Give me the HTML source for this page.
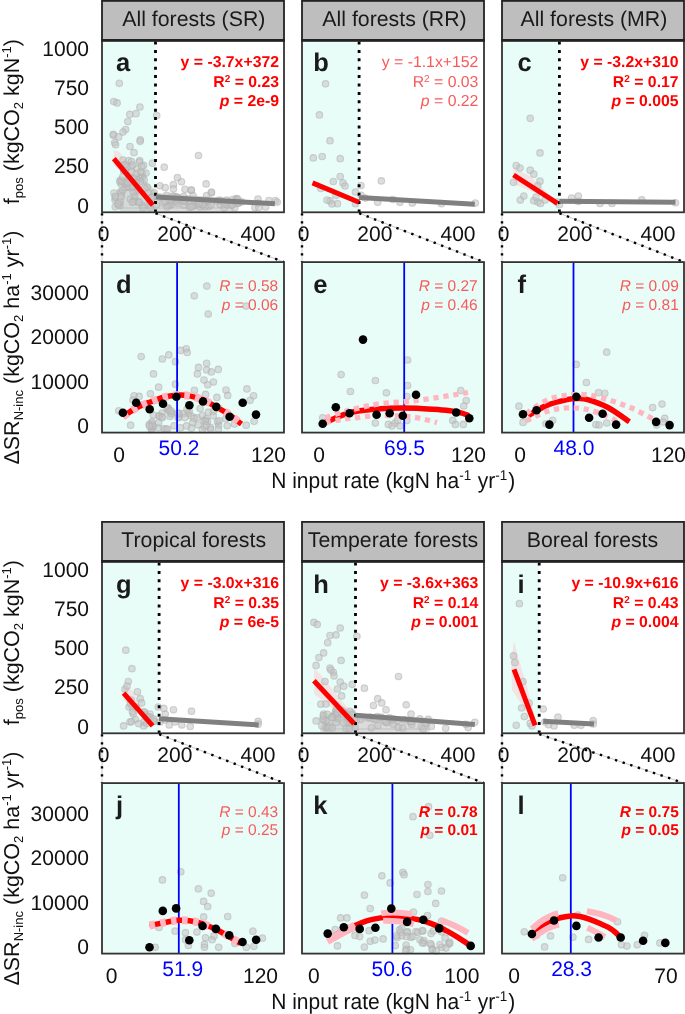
<!DOCTYPE html>
<html><head><meta charset="utf-8"><style>
html,body{margin:0;padding:0;background:#fff;overflow:hidden;}
svg{display:block;will-change:transform;}
</style></head><body>
<svg width="685" height="1014" viewBox="0 0 685 1014" font-family='"Liberation Sans", sans-serif' text-rendering="geometricPrecision">
<rect width="685" height="1014" fill="#fff"/>
<rect x="102" y="0.9" width="182" height="39.4" fill="#bebebe" stroke="#222" stroke-width="1.8"/>
<text x="193.8" y="25.7" font-size="21.3" text-anchor="middle" fill="#1a1a1a" stroke="#1a1a1a" stroke-width="0">All forests (SR)</text>
<rect x="302" y="0.9" width="182" height="39.4" fill="#bebebe" stroke="#222" stroke-width="1.8"/>
<text x="394.5" y="25.7" font-size="21.3" text-anchor="middle" fill="#1a1a1a" stroke="#1a1a1a" stroke-width="0">All forests (RR)</text>
<rect x="502" y="0.9" width="182" height="39.4" fill="#bebebe" stroke="#222" stroke-width="1.8"/>
<text x="593.9" y="25.7" font-size="21.3" text-anchor="middle" fill="#1a1a1a" stroke="#1a1a1a" stroke-width="0">All forests (MR)</text>
<rect x="102" y="40.3" width="53.5" height="172.0" fill="#e9fdf8"/>
<polygon points="113.8,150.0 120.0,152.0 152.8,204.0 113.8,165.0" fill="#ffb6c1" fill-opacity="0.35"/>
<polygon points="121.0,209.0 123.0,190.0 130.0,178.0 140.0,178.0 150.0,188.0 156.0,195.0 230.0,200.0 232.0,209.0" fill="#c4c4c4" fill-opacity="0.6" stroke="#c4c4c4" stroke-opacity="0.6" stroke-width="4" stroke-linejoin="round"/><g fill="#c2c2c2" fill-opacity="0.55" stroke="#b0b0b0" stroke-opacity="0.55" stroke-width="1.1"><circle cx="119.3" cy="83.3" r="3.3"/><circle cx="113.8" cy="101.5" r="3.3"/><circle cx="117.1" cy="102.9" r="3.3"/><circle cx="139.9" cy="107.0" r="3.3"/><circle cx="129.8" cy="114.4" r="3.3"/><circle cx="136.0" cy="113.7" r="3.3"/><circle cx="127.8" cy="121.6" r="3.3"/><circle cx="125.6" cy="129.5" r="3.3"/><circle cx="123.0" cy="132.1" r="3.3"/><circle cx="113.4" cy="135.2" r="3.3"/><circle cx="118.6" cy="136.9" r="3.3"/><circle cx="140.3" cy="139.8" r="3.3"/><circle cx="114.7" cy="142.6" r="3.3"/><circle cx="115.6" cy="144.8" r="3.3"/><circle cx="130.0" cy="146.5" r="3.3"/><circle cx="156.7" cy="115.5" r="3.3"/><circle cx="140.1" cy="141.3" r="3.3"/><circle cx="134.0" cy="152.7" r="3.3"/><circle cx="123.0" cy="160.1" r="3.3"/><circle cx="128.7" cy="160.6" r="3.3"/><circle cx="139.7" cy="160.6" r="3.3"/><circle cx="143.6" cy="165.4" r="3.3"/><circle cx="152.4" cy="163.2" r="3.3"/><circle cx="137.0" cy="168.9" r="3.3"/><circle cx="142.3" cy="173.3" r="3.3"/><circle cx="113.3" cy="134.3" r="3.3"/><circle cx="164.2" cy="167.2" r="3.3"/><circle cx="198.5" cy="155.5" r="3.3"/><circle cx="177.4" cy="177.7" r="3.3"/><circle cx="181.5" cy="181.8" r="3.3"/><circle cx="173.4" cy="184.7" r="3.3"/><circle cx="173.4" cy="188.8" r="3.3"/><circle cx="185.0" cy="189.3" r="3.3"/><circle cx="191.1" cy="190.2" r="3.3"/><circle cx="206.1" cy="183.9" r="3.3"/><circle cx="211.3" cy="192.8" r="3.3"/><circle cx="159.9" cy="185.8" r="3.3"/><circle cx="165.2" cy="187.6" r="3.3"/><circle cx="191.4" cy="190.1" r="3.3"/><circle cx="211.5" cy="192.2" r="3.3"/><circle cx="206.6" cy="195.7" r="3.3"/><circle cx="206.6" cy="201.9" r="3.3"/><circle cx="220.5" cy="204.7" r="3.3"/><circle cx="226.0" cy="203.3" r="3.3"/><circle cx="241.3" cy="201.9" r="3.3"/><circle cx="258.0" cy="199.1" r="3.3"/><circle cx="258.0" cy="203.3" r="3.3"/><circle cx="269.0" cy="200.5" r="3.3"/><circle cx="275.3" cy="200.5" r="3.3"/><circle cx="194.2" cy="205.4" r="3.3"/><circle cx="115.0" cy="200.0" r="3.3"/><circle cx="118.0" cy="205.0" r="3.3"/><circle cx="114.0" cy="193.0" r="3.3"/><circle cx="131.0" cy="166.4" r="3.3"/><circle cx="138.8" cy="176.9" r="3.3"/><circle cx="121.1" cy="183.9" r="3.3"/><circle cx="120.4" cy="180.2" r="3.3"/><circle cx="134.7" cy="199.5" r="3.3"/><circle cx="123.6" cy="169.9" r="3.3"/><circle cx="142.2" cy="205.4" r="3.3"/><circle cx="140.4" cy="178.4" r="3.3"/><circle cx="124.3" cy="164.8" r="3.3"/><circle cx="130.4" cy="199.0" r="3.3"/><circle cx="125.7" cy="187.5" r="3.3"/><circle cx="142.6" cy="177.2" r="3.3"/><circle cx="139.3" cy="162.1" r="3.3"/><circle cx="144.2" cy="180.0" r="3.3"/><circle cx="130.6" cy="187.7" r="3.3"/><circle cx="135.8" cy="173.7" r="3.3"/><circle cx="148.4" cy="193.3" r="3.3"/><circle cx="128.0" cy="187.1" r="3.3"/><circle cx="138.4" cy="201.9" r="3.3"/><circle cx="146.0" cy="173.1" r="3.3"/><circle cx="134.5" cy="196.1" r="3.3"/><circle cx="124.6" cy="183.0" r="3.3"/><circle cx="120.5" cy="191.7" r="3.3"/><circle cx="147.3" cy="187.1" r="3.3"/><circle cx="144.7" cy="188.1" r="3.3"/><circle cx="140.5" cy="181.4" r="3.3"/><circle cx="150.1" cy="205.3" r="3.3"/><circle cx="136.5" cy="191.5" r="3.3"/><circle cx="121.2" cy="193.4" r="3.3"/><circle cx="142.9" cy="207.7" r="3.3"/><circle cx="133.3" cy="191.8" r="3.3"/><circle cx="119.8" cy="181.6" r="3.3"/><circle cx="125.2" cy="164.7" r="3.3"/><circle cx="121.2" cy="196.6" r="3.3"/><circle cx="123.8" cy="171.1" r="3.3"/><circle cx="133.5" cy="201.7" r="3.3"/><circle cx="122.0" cy="181.0" r="3.3"/><circle cx="139.3" cy="202.3" r="3.3"/><circle cx="149.3" cy="201.3" r="3.3"/><circle cx="129.3" cy="179.3" r="3.3"/><circle cx="132.3" cy="202.3" r="3.3"/><circle cx="125.5" cy="170.4" r="3.3"/><circle cx="127.6" cy="182.8" r="3.3"/><circle cx="140.8" cy="171.9" r="3.3"/><circle cx="132.7" cy="186.8" r="3.3"/><circle cx="154.3" cy="192.8" r="3.3"/><circle cx="138.1" cy="189.3" r="3.3"/><circle cx="152.3" cy="197.2" r="3.3"/><circle cx="151.4" cy="198.1" r="3.3"/><circle cx="133.5" cy="178.5" r="3.3"/><circle cx="122.8" cy="190.1" r="3.3"/><circle cx="126.7" cy="167.0" r="3.3"/><circle cx="131.6" cy="161.6" r="3.3"/><circle cx="122.8" cy="176.8" r="3.3"/><circle cx="119.9" cy="201.8" r="3.3"/><circle cx="141.7" cy="166.3" r="3.3"/><circle cx="128.3" cy="176.0" r="3.3"/><circle cx="132.5" cy="165.0" r="3.3"/><circle cx="150.4" cy="207.7" r="3.3"/><circle cx="136.2" cy="182.7" r="3.3"/><circle cx="131.7" cy="172.0" r="3.3"/><circle cx="119.9" cy="205.6" r="3.3"/><circle cx="115.2" cy="197.6" r="3.3"/><circle cx="115.3" cy="196.3" r="3.3"/><circle cx="115.2" cy="206.8" r="3.3"/><circle cx="117.9" cy="203.7" r="3.3"/><circle cx="177.9" cy="198.5" r="3.3"/><circle cx="170.0" cy="204.6" r="3.3"/><circle cx="200.7" cy="204.7" r="3.3"/><circle cx="183.7" cy="196.3" r="3.3"/><circle cx="224.2" cy="207.8" r="3.3"/><circle cx="227.6" cy="205.1" r="3.3"/><circle cx="224.7" cy="204.1" r="3.3"/><circle cx="175.0" cy="200.8" r="3.3"/><circle cx="158.3" cy="197.2" r="3.3"/><circle cx="177.8" cy="203.4" r="3.3"/><circle cx="236.3" cy="199.7" r="3.3"/><circle cx="234.7" cy="207.8" r="3.3"/><circle cx="236.2" cy="198.5" r="3.3"/><circle cx="174.5" cy="196.4" r="3.3"/><circle cx="172.5" cy="196.1" r="3.3"/><circle cx="208.4" cy="206.5" r="3.3"/><circle cx="226.6" cy="200.2" r="3.3"/><circle cx="210.9" cy="205.0" r="3.3"/><circle cx="163.1" cy="202.9" r="3.3"/><circle cx="232.4" cy="204.7" r="3.3"/><circle cx="219.0" cy="200.2" r="3.3"/><circle cx="171.0" cy="204.8" r="3.3"/><circle cx="183.9" cy="205.0" r="3.3"/><circle cx="237.6" cy="198.9" r="3.3"/><circle cx="189.7" cy="207.2" r="3.3"/><circle cx="166.7" cy="195.3" r="3.3"/><circle cx="232.0" cy="205.1" r="3.3"/><circle cx="168.3" cy="205.4" r="3.3"/><circle cx="238.3" cy="202.9" r="3.3"/><circle cx="185.4" cy="201.2" r="3.3"/><circle cx="237.6" cy="202.7" r="3.3"/><circle cx="200.2" cy="207.0" r="3.3"/><circle cx="192.4" cy="206.1" r="3.3"/><circle cx="177.2" cy="197.4" r="3.3"/><circle cx="176.2" cy="201.8" r="3.3"/><circle cx="177.8" cy="199.3" r="3.3"/><circle cx="167.0" cy="206.7" r="3.3"/><circle cx="185.7" cy="199.9" r="3.3"/><circle cx="205.0" cy="206.6" r="3.3"/><circle cx="191.3" cy="206.8" r="3.3"/><circle cx="198.1" cy="201.0" r="3.3"/><circle cx="193.0" cy="195.7" r="3.3"/><circle cx="156.3" cy="205.0" r="3.3"/><circle cx="170.5" cy="200.1" r="3.3"/><circle cx="216.9" cy="201.3" r="3.3"/><circle cx="183.4" cy="200.8" r="3.3"/><circle cx="202.7" cy="204.8" r="3.3"/><circle cx="164.9" cy="201.4" r="3.3"/><circle cx="176.9" cy="197.2" r="3.3"/><circle cx="220.9" cy="200.6" r="3.3"/><circle cx="203.2" cy="204.4" r="3.3"/><circle cx="232.6" cy="199.6" r="3.3"/><circle cx="207.5" cy="200.6" r="3.3"/><circle cx="199.0" cy="203.4" r="3.3"/><circle cx="194.0" cy="201.0" r="3.3"/><circle cx="254.9" cy="207.5" r="3.3"/><circle cx="265.6" cy="207.0" r="3.3"/><circle cx="277.2" cy="202.1" r="3.3"/><circle cx="258.9" cy="207.5" r="3.3"/><circle cx="237.8" cy="203.5" r="3.3"/><circle cx="235.5" cy="201.9" r="3.3"/></g>
<line x1="155.5" y1="41.5" x2="155.5" y2="213.3" stroke="#000" stroke-width="2.8" stroke-dasharray="3 5.4"/>
<line x1="155.9" y1="196.9" x2="274.9" y2="203.8" stroke="#808080" stroke-width="5"/>
<line x1="113.8" y1="158.6" x2="152.8" y2="205.2" stroke="#ff0000" stroke-width="5"/>
<rect x="102" y="40.3" width="182" height="172.0" fill="none" stroke="#333" stroke-width="1.8"/>
<line x1="101.1" y1="40.4" x2="284.9" y2="40.4" stroke="#222" stroke-width="2.6"/>
<line x1="102" y1="213.2" x2="102" y2="262.1" stroke="#bbb" stroke-width="0.8"/>
<line x1="102" y1="213.2" x2="102" y2="262.1" stroke="#000" stroke-width="2.4" stroke-dasharray="2.4 5.6"/>
<line x1="155.5" y1="213.2" x2="284" y2="262.1" stroke="#bbb" stroke-width="0.8"/>
<line x1="155.5" y1="213.2" x2="284" y2="262.1" stroke="#000" stroke-width="2.4" stroke-dasharray="2.4 5.6"/>
<text x="115.9" y="71.1" font-size="25.5" font-weight="bold" fill="#1a1a1a">a</text>
<g font-size="15.8" font-weight="bold" fill="#ff0000" text-anchor="end">
<text x="279.0" y="67">y = -3.7x+372</text>
<text x="279.0" y="87.2">R<tspan font-size="10" dy="-5">2</tspan><tspan dy="5"> = 0.23</tspan></text>
<text x="279.0" y="106.4"><tspan font-style="italic">p</tspan> = 2e-9</text>
</g>
<text transform="translate(103.7 240.8) scale(1 1.0)" font-size="21" text-anchor="middle" fill="#111" stroke="#111" stroke-width="0">0</text>
<text transform="translate(174.8 240.8) scale(1 1.0)" font-size="21" text-anchor="middle" fill="#111" stroke="#111" stroke-width="0">200</text>
<text transform="translate(258 240.8) scale(1 1.0)" font-size="21" text-anchor="middle" fill="#111" stroke="#111" stroke-width="0">400</text>
<rect x="302" y="40.3" width="57.10000000000002" height="172.0" fill="#e9fdf8"/>
<g fill="#c2c2c2" fill-opacity="0.55" stroke="#b0b0b0" stroke-opacity="0.55" stroke-width="1.1"><circle cx="325.5" cy="83.8" r="3.3"/><circle cx="319.4" cy="114.9" r="3.3"/><circle cx="330.0" cy="140.7" r="3.3"/><circle cx="313.3" cy="157.9" r="3.3"/><circle cx="322.2" cy="156.5" r="3.3"/><circle cx="340.2" cy="158.7" r="3.3"/><circle cx="340.2" cy="176.5" r="3.3"/><circle cx="333.3" cy="181.5" r="3.3"/><circle cx="343.0" cy="182.9" r="3.3"/><circle cx="320.8" cy="188.4" r="3.3"/><circle cx="336.0" cy="195.3" r="3.3"/><circle cx="330.0" cy="200.9" r="3.3"/><circle cx="337.4" cy="203.7" r="3.3"/><circle cx="355.5" cy="192.0" r="3.3"/><circle cx="355.5" cy="203.7" r="3.3"/><circle cx="361.0" cy="185.6" r="3.3"/><circle cx="361.0" cy="195.3" r="3.3"/><circle cx="381.3" cy="180.9" r="3.3"/><circle cx="365.2" cy="198.1" r="3.3"/><circle cx="377.7" cy="202.3" r="3.3"/><circle cx="392.9" cy="199.5" r="3.3"/><circle cx="399.9" cy="202.3" r="3.3"/><circle cx="412.3" cy="203.1" r="3.3"/><circle cx="441.5" cy="203.7" r="3.3"/><circle cx="475.3" cy="203.1" r="3.3"/><circle cx="345.0" cy="186.0" r="3.3"/><circle cx="332.0" cy="204.0" r="3.3"/><circle cx="327.0" cy="200.0" r="3.3"/></g>
<line x1="359.1" y1="41.5" x2="359.1" y2="213.3" stroke="#000" stroke-width="2.8" stroke-dasharray="3 5.4"/>
<line x1="359" y1="197.6" x2="474.8" y2="204.2" stroke="#808080" stroke-width="5"/>
<line x1="312.5" y1="182.9" x2="359" y2="202.3" stroke="#ff0000" stroke-width="5"/>
<rect x="302" y="40.3" width="182" height="172.0" fill="none" stroke="#333" stroke-width="1.8"/>
<line x1="301.1" y1="40.4" x2="484.9" y2="40.4" stroke="#222" stroke-width="2.6"/>
<line x1="302" y1="213.2" x2="302" y2="262.1" stroke="#bbb" stroke-width="0.8"/>
<line x1="302" y1="213.2" x2="302" y2="262.1" stroke="#000" stroke-width="2.4" stroke-dasharray="2.4 5.6"/>
<line x1="359.1" y1="213.2" x2="484" y2="262.1" stroke="#bbb" stroke-width="0.8"/>
<line x1="359.1" y1="213.2" x2="484" y2="262.1" stroke="#000" stroke-width="2.4" stroke-dasharray="2.4 5.6"/>
<text x="313.3" y="71.1" font-size="25.5" font-weight="bold" fill="#1a1a1a">b</text>
<g font-size="15.8" font-weight="normal" fill="#f85a5a" text-anchor="end">
<text x="478.4" y="67">y = -1.1x+152</text>
<text x="478.4" y="87.2">R<tspan font-size="10" dy="-5">2</tspan><tspan dy="5"> = 0.03</tspan></text>
<text x="478.4" y="106.4"><tspan font-style="italic">p</tspan> = 0.22</text>
</g>
<text transform="translate(303.7 240.8) scale(1 1.0)" font-size="21" text-anchor="middle" fill="#111" stroke="#111" stroke-width="0">0</text>
<text transform="translate(374.8 240.8) scale(1 1.0)" font-size="21" text-anchor="middle" fill="#111" stroke="#111" stroke-width="0">200</text>
<text transform="translate(458 240.8) scale(1 1.0)" font-size="21" text-anchor="middle" fill="#111" stroke="#111" stroke-width="0">400</text>
<rect x="502" y="40.3" width="57.39999999999998" height="172.0" fill="#e9fdf8"/>
<polygon points="513.5,168.0 530.0,176.0 557.0,202.0 513.5,184.0" fill="#ffb6c1" fill-opacity="0.35"/>
<g fill="#c2c2c2" fill-opacity="0.55" stroke="#b0b0b0" stroke-opacity="0.55" stroke-width="1.1"><circle cx="530.2" cy="118.3" r="3.3"/><circle cx="540.0" cy="152.9" r="3.3"/><circle cx="516.2" cy="165.6" r="3.3"/><circle cx="530.2" cy="170.2" r="3.3"/><circle cx="533.8" cy="174.2" r="3.3"/><circle cx="513.5" cy="182.3" r="3.3"/><circle cx="540.0" cy="181.2" r="3.3"/><circle cx="537.8" cy="185.8" r="3.3"/><circle cx="523.8" cy="196.1" r="3.3"/><circle cx="520.3" cy="200.1" r="3.3"/><circle cx="533.8" cy="200.7" r="3.3"/><circle cx="537.8" cy="202.0" r="3.3"/><circle cx="540.5" cy="203.4" r="3.3"/><circle cx="556.7" cy="202.0" r="3.3"/><circle cx="559.4" cy="204.7" r="3.3"/><circle cx="571.6" cy="198.0" r="3.3"/><circle cx="578.3" cy="196.1" r="3.3"/><circle cx="578.3" cy="201.5" r="3.3"/><circle cx="600.0" cy="203.4" r="3.3"/><circle cx="612.0" cy="203.4" r="3.3"/><circle cx="641.8" cy="199.9" r="3.3"/><circle cx="675.5" cy="202.8" r="3.3"/><circle cx="520.0" cy="168.0" r="3.3"/><circle cx="536.0" cy="197.0" r="3.3"/><circle cx="545.0" cy="200.0" r="3.3"/></g>
<line x1="559.4" y1="41.5" x2="559.4" y2="213.3" stroke="#000" stroke-width="2.8" stroke-dasharray="3 5.4"/>
<line x1="559.4" y1="201.3" x2="675.5" y2="202.2" stroke="#808080" stroke-width="5"/>
<line x1="513.5" y1="175" x2="557.5" y2="203.4" stroke="#ff0000" stroke-width="5"/>
<rect x="502" y="40.3" width="182" height="172.0" fill="none" stroke="#333" stroke-width="1.8"/>
<line x1="501.1" y1="40.4" x2="684.9" y2="40.4" stroke="#222" stroke-width="2.6"/>
<line x1="502" y1="213.2" x2="502" y2="262.1" stroke="#bbb" stroke-width="0.8"/>
<line x1="502" y1="213.2" x2="502" y2="262.1" stroke="#000" stroke-width="2.4" stroke-dasharray="2.4 5.6"/>
<line x1="559.4" y1="213.2" x2="684" y2="262.1" stroke="#bbb" stroke-width="0.8"/>
<line x1="559.4" y1="213.2" x2="684" y2="262.1" stroke="#000" stroke-width="2.4" stroke-dasharray="2.4 5.6"/>
<text x="517.6" y="71.1" font-size="25.5" font-weight="bold" fill="#1a1a1a">c</text>
<g font-size="15.8" font-weight="bold" fill="#ff0000" text-anchor="end">
<text x="678.6" y="67">y = -3.2x+310</text>
<text x="678.6" y="87.2">R<tspan font-size="10" dy="-5">2</tspan><tspan dy="5"> = 0.17</tspan></text>
<text x="678.6" y="106.4"><tspan font-style="italic">p</tspan> = 0.005</text>
</g>
<text transform="translate(503.7 240.8) scale(1 1.0)" font-size="21" text-anchor="middle" fill="#111" stroke="#111" stroke-width="0">0</text>
<text transform="translate(574.8 240.8) scale(1 1.0)" font-size="21" text-anchor="middle" fill="#111" stroke="#111" stroke-width="0">200</text>
<text transform="translate(658 240.8) scale(1 1.0)" font-size="21" text-anchor="middle" fill="#111" stroke="#111" stroke-width="0">400</text>
<rect x="102" y="262.1" width="182" height="170.5" fill="#e9fdf8"/>
<g fill="#c2c2c2" fill-opacity="0.55" stroke="#b0b0b0" stroke-opacity="0.55" stroke-width="1.1"><circle cx="206.8" cy="286.1" r="3.3"/><circle cx="194.3" cy="295.8" r="3.3"/><circle cx="208.2" cy="314.1" r="3.3"/><circle cx="141.2" cy="356.6" r="3.3"/><circle cx="162.3" cy="359.0" r="3.3"/><circle cx="168.8" cy="354.9" r="3.3"/><circle cx="175.4" cy="361.7" r="3.3"/><circle cx="180.7" cy="350.4" r="3.3"/><circle cx="186.2" cy="348.8" r="3.3"/><circle cx="187.2" cy="352.5" r="3.3"/><circle cx="153.5" cy="373.9" r="3.3"/><circle cx="198.5" cy="367.4" r="3.3"/><circle cx="206.6" cy="363.3" r="3.3"/><circle cx="206.6" cy="369.9" r="3.3"/><circle cx="211.3" cy="371.9" r="3.3"/><circle cx="218.3" cy="369.4" r="3.3"/><circle cx="197.4" cy="373.9" r="3.3"/><circle cx="204.0" cy="380.1" r="3.3"/><circle cx="213.4" cy="382.1" r="3.3"/><circle cx="207.7" cy="384.8" r="3.3"/><circle cx="175.4" cy="384.2" r="3.3"/><circle cx="158.6" cy="387.2" r="3.3"/><circle cx="150.4" cy="393.8" r="3.3"/><circle cx="194.4" cy="390.3" r="3.3"/><circle cx="227.7" cy="395.4" r="3.3"/><circle cx="246.9" cy="388.9" r="3.3"/><circle cx="253.6" cy="395.8" r="3.3"/><circle cx="134.1" cy="395.8" r="3.3"/><circle cx="139.2" cy="396.4" r="3.3"/><circle cx="205.6" cy="394.4" r="3.3"/><circle cx="216.9" cy="397.4" r="3.3"/><circle cx="118.8" cy="410.8" r="3.3"/><circle cx="130.6" cy="425.2" r="3.3"/><circle cx="250.1" cy="400.3" r="3.3"/><circle cx="246.2" cy="425.2" r="3.3"/><circle cx="254.1" cy="421.3" r="3.3"/><circle cx="234.4" cy="423.9" r="3.3"/><circle cx="218.6" cy="425.2" r="3.3"/><circle cx="133.0" cy="400.0" r="3.3"/><circle cx="226.0" cy="390.0" r="3.3"/><circle cx="246.1" cy="306.1" r="3.3"/><circle cx="152.0" cy="421.7" r="3.3"/><circle cx="210.3" cy="427.4" r="3.3"/><circle cx="158.7" cy="422.9" r="3.3"/><circle cx="200.1" cy="408.6" r="3.3"/><circle cx="218.4" cy="429.2" r="3.3"/><circle cx="164.0" cy="428.8" r="3.3"/><circle cx="178.7" cy="417.2" r="3.3"/><circle cx="227.2" cy="425.8" r="3.3"/><circle cx="159.2" cy="415.8" r="3.3"/><circle cx="188.3" cy="413.5" r="3.3"/><circle cx="162.1" cy="413.0" r="3.3"/><circle cx="191.4" cy="416.0" r="3.3"/><circle cx="197.2" cy="417.8" r="3.3"/><circle cx="151.3" cy="429.6" r="3.3"/><circle cx="210.6" cy="429.3" r="3.3"/><circle cx="149.2" cy="424.5" r="3.3"/><circle cx="168.2" cy="408.2" r="3.3"/><circle cx="180.6" cy="427.8" r="3.3"/><circle cx="213.2" cy="411.5" r="3.3"/><circle cx="158.2" cy="428.0" r="3.3"/><circle cx="192.8" cy="422.5" r="3.3"/><circle cx="202.4" cy="415.6" r="3.3"/><circle cx="151.9" cy="428.5" r="3.3"/><circle cx="198.0" cy="425.0" r="3.3"/><circle cx="152.9" cy="426.4" r="3.3"/><circle cx="151.5" cy="426.6" r="3.3"/><circle cx="183.2" cy="413.5" r="3.3"/><circle cx="191.4" cy="428.2" r="3.3"/><circle cx="168.0" cy="408.2" r="3.3"/><circle cx="189.2" cy="411.0" r="3.3"/><circle cx="171.6" cy="412.6" r="3.3"/><circle cx="208.3" cy="412.2" r="3.3"/><circle cx="187.0" cy="409.4" r="3.3"/><circle cx="206.1" cy="418.8" r="3.3"/><circle cx="161.5" cy="416.9" r="3.3"/><circle cx="213.2" cy="415.8" r="3.3"/><circle cx="186.6" cy="425.9" r="3.3"/><circle cx="178.2" cy="417.7" r="3.3"/><circle cx="202.4" cy="429.6" r="3.3"/><circle cx="174.1" cy="425.8" r="3.3"/><circle cx="204.0" cy="420.9" r="3.3"/><circle cx="179.2" cy="413.7" r="3.3"/><circle cx="151.8" cy="423.5" r="3.3"/><circle cx="167.0" cy="409.1" r="3.3"/><circle cx="152.9" cy="426.0" r="3.3"/><circle cx="217.4" cy="421.8" r="3.3"/><circle cx="169.1" cy="411.1" r="3.3"/><circle cx="170.0" cy="416.5" r="3.3"/><circle cx="158.9" cy="416.1" r="3.3"/><circle cx="167.6" cy="429.0" r="3.3"/><circle cx="225.8" cy="418.7" r="3.3"/><circle cx="166.0" cy="429.1" r="3.3"/><circle cx="171.4" cy="413.9" r="3.3"/><circle cx="184.9" cy="417.6" r="3.3"/><circle cx="162.5" cy="417.6" r="3.3"/><circle cx="153.4" cy="415.0" r="3.3"/><circle cx="170.9" cy="410.8" r="3.3"/><circle cx="194.0" cy="418.2" r="3.3"/><circle cx="207.5" cy="421.4" r="3.3"/><circle cx="204.7" cy="427.0" r="3.3"/><circle cx="177.9" cy="413.2" r="3.3"/><circle cx="205.4" cy="421.1" r="3.3"/><circle cx="149.6" cy="425.9" r="3.3"/><circle cx="219.1" cy="420.7" r="3.3"/><circle cx="206.2" cy="425.3" r="3.3"/></g>
<line x1="177.1" y1="262.1" x2="177.1" y2="432.6" stroke="#0000ff" stroke-width="1.8"/>
<path d="M123.0,416.5 C125.2,415.1 131.8,410.4 136.2,408.0 C140.6,405.6 145.2,403.9 149.7,402.2 C154.2,400.4 158.6,398.7 163.0,397.5 C167.4,396.3 172.0,395.5 176.4,395.2 C180.8,394.9 185.0,395.1 189.4,395.9 C193.8,396.7 198.5,398.1 203.0,399.9 C207.5,401.7 211.9,404.4 216.3,406.9 C220.7,409.4 225.4,412.1 229.6,415.0 C233.8,417.9 239.5,422.5 241.5,424.0" fill="none" stroke="#ff0000" stroke-width="5.5"/>
<path d="M123.0,416.5 C125.2,415.1 131.8,410.4 136.2,408.0 C140.6,405.6 145.2,403.9 149.7,402.2 C154.2,400.4 158.6,398.7 163.0,397.5 C167.4,396.3 172.0,395.5 176.4,395.2 C180.8,394.9 185.0,395.1 189.4,395.9 C193.8,396.7 198.5,398.1 203.0,399.9 C207.5,401.7 211.9,404.4 216.3,406.9 C220.7,409.4 225.4,412.1 229.6,415.0 C233.8,417.9 239.5,422.5 241.5,424.0" fill="none" stroke="#ffb6c1" stroke-width="8" stroke-dasharray="5.6 5.4" stroke-dashoffset="0"/>
<g fill="#000"><circle cx="122.9" cy="412.7" r="4.3"/><circle cx="136.2" cy="402.7" r="4.3"/><circle cx="149.7" cy="409.2" r="4.3"/><circle cx="163.0" cy="403.8" r="4.3"/><circle cx="176.4" cy="396.8" r="4.3"/><circle cx="189.4" cy="405.2" r="4.3"/><circle cx="203.0" cy="401.5" r="4.3"/><circle cx="216.3" cy="406.9" r="4.3"/><circle cx="229.6" cy="416.7" r="4.3"/><circle cx="242.7" cy="402.7" r="4.3"/><circle cx="256.0" cy="414.6" r="4.3"/></g>
<rect x="102" y="262.1" width="182" height="170.5" fill="none" stroke="#333" stroke-width="1.8"/>
<text x="115.9" y="293.3" font-size="25.5" font-weight="bold" fill="#1a1a1a">d</text>
<g font-size="15.5" font-weight="normal" fill="#f85a5a" text-anchor="end">
<text x="278.2" y="291"><tspan font-style="italic">R</tspan> = 0.58</text>
<text x="278.2" y="309.7"><tspan font-style="italic">p</tspan> = 0.06</text>
</g>
<text transform="translate(119 461.5) scale(1 1.0)" font-size="21" text-anchor="middle" fill="#111" stroke="#111" stroke-width="0">0</text>
<text transform="translate(268.5 461.5) scale(1 1.0)" font-size="21" text-anchor="middle" fill="#111" stroke="#111" stroke-width="0">120</text>
<text transform="translate(179 454.5) scale(1 1.0)" font-size="21" text-anchor="middle" fill="#0000ff">50.2</text>
<rect x="302" y="262.1" width="182" height="170.5" fill="#e9fdf8"/>
<g fill="#c2c2c2" fill-opacity="0.55" stroke="#b0b0b0" stroke-opacity="0.55" stroke-width="1.1"><circle cx="341.1" cy="374.6" r="3.3"/><circle cx="375.4" cy="380.5" r="3.3"/><circle cx="350.4" cy="391.5" r="3.3"/><circle cx="386.4" cy="392.8" r="3.3"/><circle cx="407.6" cy="360.0" r="3.3"/><circle cx="407.6" cy="385.5" r="3.3"/><circle cx="406.8" cy="396.5" r="3.3"/><circle cx="460.8" cy="390.6" r="3.3"/><circle cx="466.2" cy="400.6" r="3.3"/><circle cx="463.8" cy="406.0" r="3.3"/><circle cx="322.7" cy="417.8" r="3.3"/><circle cx="375.3" cy="423.1" r="3.3"/><circle cx="388.4" cy="424.4" r="3.3"/><circle cx="395.0" cy="423.1" r="3.3"/><circle cx="397.6" cy="420.4" r="3.3"/><circle cx="406.8" cy="420.4" r="3.3"/><circle cx="452.8" cy="420.4" r="3.3"/><circle cx="455.4" cy="424.4" r="3.3"/><circle cx="463.3" cy="424.4" r="3.3"/><circle cx="392.0" cy="426.0" r="3.3"/><circle cx="400.0" cy="426.0" r="3.3"/></g>
<line x1="404.2" y1="262.1" x2="404.2" y2="432.6" stroke="#0000ff" stroke-width="1.8"/>
<path d="M323.2,423.6 C325.3,422.6 331.5,419.6 336.0,417.8 C340.5,416.0 344.8,413.9 350.0,412.6 C355.2,411.3 361.2,410.7 367.0,410.0 C372.8,409.3 379.2,408.7 385.0,408.4 C390.8,408.1 396.1,408.1 402.0,408.1 C407.9,408.1 414.1,408.1 420.1,408.4 C426.1,408.6 432.1,409.1 438.0,409.6 C443.9,410.1 450.0,410.4 455.2,411.4 C460.4,412.4 466.9,414.9 469.2,415.6" fill="none" stroke="#ff0000" stroke-width="5.5"/>
<path d="M325.5,417.7 C328.1,416.8 335.8,414.1 341.0,412.5 C346.2,410.9 350.4,409.9 357.0,408.4 C363.6,406.9 371.0,404.9 380.4,403.7 C389.8,402.4 402.2,402.1 413.1,400.9 C424.0,399.6 436.7,397.6 445.8,396.2 C454.9,394.8 464.3,393.1 468.0,392.5" fill="none" stroke="#ffb6c1" stroke-width="5.3" stroke-dasharray="5.3 4.7"/>
<path d="M325.5,422.4 C328.1,421.9 335.8,420.3 341.0,419.5 C346.2,418.7 350.4,418.4 357.0,417.7 C363.6,417.0 371.0,415.5 380.4,415.4 C389.8,415.3 403.7,416.0 413.1,417.2 C422.5,418.4 433.0,421.7 437.0,422.6" fill="none" stroke="#ffb6c1" stroke-width="5.3" stroke-dasharray="5.3 4.7"/>
<g fill="#000"><circle cx="322.7" cy="423.8" r="4.3"/><circle cx="335.8" cy="407.3" r="4.3"/><circle cx="349.5" cy="413.3" r="4.3"/><circle cx="363.0" cy="339.6" r="4.3"/><circle cx="376.6" cy="414.7" r="4.3"/><circle cx="389.7" cy="413.3" r="4.3"/><circle cx="402.8" cy="415.7" r="4.3"/><circle cx="416.0" cy="394.7" r="4.3"/><circle cx="456.2" cy="412.5" r="4.3"/><circle cx="469.3" cy="418.3" r="4.3"/></g>
<rect x="302" y="262.1" width="182" height="170.5" fill="none" stroke="#333" stroke-width="1.8"/>
<text x="313.3" y="293.3" font-size="25.5" font-weight="bold" fill="#1a1a1a">e</text>
<g font-size="15.5" font-weight="normal" fill="#f85a5a" text-anchor="end">
<text x="477.7" y="291"><tspan font-style="italic">R</tspan> = 0.27</text>
<text x="477.7" y="309.7"><tspan font-style="italic">p</tspan> = 0.46</text>
</g>
<text transform="translate(319 461.5) scale(1 1.0)" font-size="21" text-anchor="middle" fill="#111" stroke="#111" stroke-width="0">0</text>
<text transform="translate(468.5 461.5) scale(1 1.0)" font-size="21" text-anchor="middle" fill="#111" stroke="#111" stroke-width="0">120</text>
<text transform="translate(404.4 454.5) scale(1 1.0)" font-size="21" text-anchor="middle" fill="#0000ff">69.5</text>
<rect x="502" y="262.1" width="182" height="170.5" fill="#e9fdf8"/>
<g fill="#c2c2c2" fill-opacity="0.55" stroke="#b0b0b0" stroke-opacity="0.55" stroke-width="1.1"><circle cx="606.7" cy="352.2" r="3.3"/><circle cx="576.2" cy="364.4" r="3.3"/><circle cx="586.4" cy="382.5" r="3.3"/><circle cx="604.8" cy="393.3" r="3.3"/><circle cx="518.9" cy="406.2" r="3.3"/><circle cx="523.0" cy="422.4" r="3.3"/><circle cx="552.7" cy="420.3" r="3.3"/><circle cx="545.9" cy="423.8" r="3.3"/><circle cx="595.9" cy="424.6" r="3.3"/><circle cx="599.0" cy="425.0" r="3.3"/><circle cx="606.7" cy="423.0" r="3.3"/><circle cx="652.6" cy="407.6" r="3.3"/><circle cx="662.0" cy="404.1" r="3.3"/><circle cx="664.7" cy="418.4" r="3.3"/><circle cx="663.0" cy="422.0" r="3.3"/><circle cx="656.6" cy="425.1" r="3.3"/><circle cx="598.6" cy="392.7" r="3.3"/></g>
<line x1="573.5" y1="262.1" x2="573.5" y2="432.6" stroke="#0000ff" stroke-width="1.8"/>
<path d="M528.2,415.7 C531.3,414.0 540.1,408.1 546.6,405.4 C553.1,402.7 561.9,400.7 567.0,399.6 C572.1,398.5 573.6,398.6 577.0,398.6 C580.4,398.6 582.3,398.1 587.5,399.6 C592.7,401.1 601.0,403.8 608.0,407.5 C615.0,411.2 625.8,419.4 629.4,421.8" fill="none" stroke="#ff0000" stroke-width="5.5"/>
<path d="M526.0,413.5 C529.4,411.3 539.8,403.4 546.6,400.3 C553.4,397.2 560.2,396.1 567.0,395.2 C573.8,394.3 580.3,393.9 587.5,394.8 C594.7,395.7 602.9,398.2 610.0,400.3 C617.1,402.4 623.9,404.8 630.4,407.5 C636.9,410.2 643.9,414.2 648.8,416.7 C653.7,419.2 658.1,421.5 660.0,422.5" fill="none" stroke="#ffb6c1" stroke-width="5.3" stroke-dasharray="5.3 4.7"/>
<path d="M526.1,420.8 C529.5,419.3 539.8,413.8 546.6,411.6 C553.4,409.5 560.2,408.2 567.0,407.9 C573.8,407.5 580.7,408.0 587.5,409.5 C594.3,411.0 603.2,414.8 608.0,416.7 C612.8,418.6 614.7,420.1 616.0,420.8" fill="none" stroke="#ffb6c1" stroke-width="5.3" stroke-dasharray="5.3 4.7"/>
<g fill="#000"><circle cx="523.0" cy="414.3" r="4.3"/><circle cx="536.5" cy="410.3" r="4.3"/><circle cx="549.4" cy="424.6" r="4.3"/><circle cx="576.4" cy="396.8" r="4.3"/><circle cx="589.1" cy="417.8" r="4.3"/><circle cx="602.6" cy="413.8" r="4.3"/><circle cx="616.1" cy="424.6" r="4.3"/><circle cx="656.1" cy="421.9" r="4.3"/><circle cx="669.6" cy="425.1" r="4.3"/></g>
<rect x="502" y="262.1" width="182" height="170.5" fill="none" stroke="#333" stroke-width="1.8"/>
<text x="517.6" y="293.3" font-size="25.5" font-weight="bold" fill="#1a1a1a">f</text>
<g font-size="15.5" font-weight="normal" fill="#f85a5a" text-anchor="end">
<text x="678.8" y="291"><tspan font-style="italic">R</tspan> = 0.09</text>
<text x="678.8" y="309.7"><tspan font-style="italic">p</tspan> = 0.81</text>
</g>
<text transform="translate(520 461.5) scale(1 1.0)" font-size="21" text-anchor="middle" fill="#111" stroke="#111" stroke-width="0">0</text>
<text transform="translate(668.5 461.5) scale(1 1.0)" font-size="21" text-anchor="middle" fill="#111" stroke="#111" stroke-width="0">120</text>
<text transform="translate(574 454.5) scale(1 1.0)" font-size="21" text-anchor="middle" fill="#0000ff">48.0</text>
<text transform="translate(89 55.7) scale(1 1.0)" font-size="21" text-anchor="end" fill="#111" stroke="#111" stroke-width="0">1000</text>
<text transform="translate(89 94.9) scale(1 1.0)" font-size="21" text-anchor="end" fill="#111" stroke="#111" stroke-width="0">750</text>
<text transform="translate(89 134.1) scale(1 1.0)" font-size="21" text-anchor="end" fill="#111" stroke="#111" stroke-width="0">500</text>
<text transform="translate(89 173.3) scale(1 1.0)" font-size="21" text-anchor="end" fill="#111" stroke="#111" stroke-width="0">250</text>
<text transform="translate(89 212.5) scale(1 1.0)" font-size="21" text-anchor="end" fill="#111" stroke="#111" stroke-width="0">0</text>
<text transform="translate(89 299.6) scale(1 1.0)" font-size="21" text-anchor="end" fill="#111" stroke="#111" stroke-width="0">30000</text>
<text transform="translate(89 344.2) scale(1 1.0)" font-size="21" text-anchor="end" fill="#111" stroke="#111" stroke-width="0">20000</text>
<text transform="translate(89 388.8) scale(1 1.0)" font-size="21" text-anchor="end" fill="#111" stroke="#111" stroke-width="0">10000</text>
<text transform="translate(89 433.4) scale(1 1.0)" font-size="21" text-anchor="end" fill="#111" stroke="#111" stroke-width="0">0</text>
<text transform="translate(18.9 121.6) rotate(-90)" text-anchor="middle" font-size="21.5" fill="#111" stroke="#111" stroke-width="0">f<tspan font-size="13" dy="4">pos</tspan><tspan dy="-4"> (kgCO</tspan><tspan font-size="13" dy="4">2</tspan><tspan dy="-4"> kgN</tspan><tspan font-size="13" dy="-8">-1</tspan><tspan dy="8">)</tspan></text>
<text transform="translate(18.8 347.6) rotate(-90)" text-anchor="middle" font-size="21.5" fill="#111" stroke="#111" stroke-width="0">&#916;SR<tspan font-size="13" dy="4">N-inc</tspan><tspan dy="-4"> (kgCO</tspan><tspan font-size="13" dy="4">2</tspan><tspan dy="-4"> ha</tspan><tspan font-size="13" dy="-8">-1</tspan><tspan dy="8"> yr</tspan><tspan font-size="13" dy="-8">-1</tspan><tspan dy="8">)</tspan></text>
<text transform="translate(271.2 488.2) scale(1 1.06)" font-size="21" fill="#111" stroke="#111" stroke-width="0">N input rate (kgN ha<tspan font-size="13.5" dy="-8">-1</tspan><tspan dy="8" dx="0.8"> yr</tspan><tspan font-size="13.5" dy="-8">-1</tspan><tspan dy="8" dx="1">)</tspan></text>
<rect x="102" y="521.9" width="182" height="39.4" fill="#bebebe" stroke="#222" stroke-width="1.8"/>
<text x="193.7" y="546.7" font-size="21.3" text-anchor="middle" fill="#1a1a1a" stroke="#1a1a1a" stroke-width="0">Tropical forests</text>
<rect x="302" y="521.9" width="182" height="39.4" fill="#bebebe" stroke="#222" stroke-width="1.8"/>
<text x="393.0" y="546.7" font-size="21.3" text-anchor="middle" fill="#1a1a1a" stroke="#1a1a1a" stroke-width="0">Temperate forests</text>
<rect x="502" y="521.9" width="182" height="39.4" fill="#bebebe" stroke="#222" stroke-width="1.8"/>
<text x="592.5" y="546.7" font-size="21.3" text-anchor="middle" fill="#1a1a1a" stroke="#1a1a1a" stroke-width="0">Boreal forests</text>
<rect x="102" y="561.3" width="57.099999999999994" height="172.0" fill="#e9fdf8"/>
<polygon points="123.6,686.0 132.0,690.0 152.0,724.0 123.6,700.0" fill="#ffb6c1" fill-opacity="0.35"/>
<g fill="#c2c2c2" fill-opacity="0.55" stroke="#b0b0b0" stroke-opacity="0.55" stroke-width="1.1"><circle cx="125.8" cy="650.2" r="3.3"/><circle cx="131.9" cy="668.7" r="3.3"/><circle cx="128.3" cy="681.5" r="3.3"/><circle cx="125.0" cy="689.0" r="3.3"/><circle cx="137.4" cy="691.8" r="3.3"/><circle cx="140.2" cy="698.7" r="3.3"/><circle cx="141.6" cy="702.9" r="3.3"/><circle cx="129.1" cy="707.0" r="3.3"/><circle cx="144.4" cy="712.0" r="3.3"/><circle cx="133.3" cy="714.0" r="3.3"/><circle cx="135.5" cy="719.5" r="3.3"/><circle cx="123.6" cy="725.9" r="3.3"/><circle cx="138.8" cy="723.7" r="3.3"/><circle cx="143.8" cy="725.9" r="3.3"/><circle cx="154.1" cy="720.9" r="3.3"/><circle cx="158.3" cy="707.0" r="3.3"/><circle cx="163.8" cy="708.4" r="3.3"/><circle cx="173.5" cy="709.8" r="3.3"/><circle cx="165.2" cy="714.0" r="3.3"/><circle cx="169.3" cy="725.0" r="3.3"/><circle cx="181.8" cy="725.0" r="3.3"/><circle cx="190.2" cy="726.4" r="3.3"/><circle cx="191.5" cy="711.2" r="3.3"/><circle cx="258.1" cy="721.4" r="3.3"/><circle cx="258.1" cy="724.2" r="3.3"/><circle cx="131.0" cy="700.0" r="3.3"/><circle cx="136.0" cy="707.0" r="3.3"/><circle cx="147.0" cy="718.0" r="3.3"/><circle cx="130.0" cy="722.0" r="3.3"/><circle cx="150.0" cy="714.0" r="3.3"/><circle cx="160.0" cy="722.0" r="3.3"/><circle cx="165.0" cy="720.0" r="3.3"/><circle cx="175.0" cy="722.0" r="3.3"/><circle cx="127.0" cy="686.0" r="3.3"/><circle cx="132.5" cy="711.8" r="3.3"/><circle cx="144.1" cy="721.7" r="3.3"/><circle cx="153.7" cy="721.4" r="3.3"/><circle cx="146.7" cy="723.6" r="3.3"/><circle cx="149.9" cy="717.2" r="3.3"/><circle cx="132.3" cy="706.5" r="3.3"/><circle cx="131.4" cy="721.7" r="3.3"/><circle cx="145.9" cy="715.1" r="3.3"/><circle cx="148.0" cy="716.8" r="3.3"/><circle cx="153.5" cy="718.9" r="3.3"/><circle cx="144.1" cy="712.1" r="3.3"/><circle cx="130.4" cy="703.5" r="3.3"/></g>
<line x1="159.1" y1="562.5" x2="159.1" y2="734.3" stroke="#000" stroke-width="2.8" stroke-dasharray="3 5.4"/>
<line x1="159" y1="718.7" x2="258.7" y2="725" stroke="#808080" stroke-width="5"/>
<line x1="123.6" y1="693.1" x2="152.7" y2="725.9" stroke="#ff0000" stroke-width="5"/>
<rect x="102" y="561.3" width="182" height="172.0" fill="none" stroke="#333" stroke-width="1.8"/>
<line x1="101.1" y1="561.4" x2="284.9" y2="561.4" stroke="#222" stroke-width="2.6"/>
<line x1="102" y1="734.2" x2="102" y2="783.1" stroke="#bbb" stroke-width="0.8"/>
<line x1="102" y1="734.2" x2="102" y2="783.1" stroke="#000" stroke-width="2.4" stroke-dasharray="2.4 5.6"/>
<line x1="159.1" y1="734.2" x2="284" y2="783.1" stroke="#bbb" stroke-width="0.8"/>
<line x1="159.1" y1="734.2" x2="284" y2="783.1" stroke="#000" stroke-width="2.4" stroke-dasharray="2.4 5.6"/>
<text x="115.9" y="592.9" font-size="25.5" font-weight="bold" fill="#1a1a1a">g</text>
<g font-size="15.8" font-weight="bold" fill="#ff0000" text-anchor="end">
<text x="279.0" y="588">y = -3.0x+316</text>
<text x="279.0" y="608.2">R<tspan font-size="10" dy="-5">2</tspan><tspan dy="5"> = 0.35</tspan></text>
<text x="279.0" y="627.4"><tspan font-style="italic">p</tspan> = 6e-5</text>
</g>
<text transform="translate(103.7 761.8) scale(1 1.0)" font-size="21" text-anchor="middle" fill="#111" stroke="#111" stroke-width="0">0</text>
<text transform="translate(174.8 761.8) scale(1 1.0)" font-size="21" text-anchor="middle" fill="#111" stroke="#111" stroke-width="0">200</text>
<text transform="translate(258 761.8) scale(1 1.0)" font-size="21" text-anchor="middle" fill="#111" stroke="#111" stroke-width="0">400</text>
<rect x="302" y="561.3" width="53.5" height="172.0" fill="#e9fdf8"/>
<polygon points="314.0,668.0 320.0,674.0 348.0,708.0 352.0,724.0 314.0,694.0" fill="#ffb6c1" fill-opacity="0.35"/>
<polygon points="322.0,730.0 325.0,718.0 335.0,713.0 347.0,713.0 356.0,718.0 428.0,721.0 428.0,730.0" fill="#c4c4c4" fill-opacity="0.6" stroke="#c4c4c4" stroke-opacity="0.6" stroke-width="4" stroke-linejoin="round"/><g fill="#c2c2c2" fill-opacity="0.55" stroke="#b0b0b0" stroke-opacity="0.55" stroke-width="1.1"><circle cx="313.9" cy="622.4" r="3.3"/><circle cx="317.2" cy="624.4" r="3.3"/><circle cx="340.2" cy="628.0" r="3.3"/><circle cx="330.0" cy="635.5" r="3.3"/><circle cx="336.0" cy="634.9" r="3.3"/><circle cx="327.7" cy="642.7" r="3.3"/><circle cx="323.6" cy="652.9" r="3.3"/><circle cx="318.9" cy="657.6" r="3.3"/><circle cx="316.1" cy="665.4" r="3.3"/><circle cx="341.1" cy="660.4" r="3.3"/><circle cx="330.0" cy="668.2" r="3.3"/><circle cx="333.3" cy="672.3" r="3.3"/><circle cx="356.9" cy="636.3" r="3.3"/><circle cx="325.0" cy="681.5" r="3.3"/><circle cx="340.2" cy="682.0" r="3.3"/><circle cx="352.2" cy="684.3" r="3.3"/><circle cx="337.4" cy="689.0" r="3.3"/><circle cx="343.8" cy="686.2" r="3.3"/><circle cx="341.6" cy="695.9" r="3.3"/><circle cx="364.4" cy="688.2" r="3.3"/><circle cx="398.5" cy="676.5" r="3.3"/><circle cx="377.7" cy="698.7" r="3.3"/><circle cx="381.8" cy="702.9" r="3.3"/><circle cx="373.5" cy="705.6" r="3.3"/><circle cx="406.2" cy="704.8" r="3.3"/><circle cx="320.8" cy="704.2" r="3.3"/><circle cx="326.0" cy="704.0" r="3.3"/><circle cx="411.0" cy="714.0" r="3.3"/><circle cx="386.0" cy="709.8" r="3.3"/><circle cx="316.1" cy="720.9" r="3.3"/><circle cx="323.0" cy="719.0" r="3.3"/><circle cx="474.8" cy="722.3" r="3.3"/><circle cx="331.0" cy="670.0" r="3.3"/><circle cx="334.0" cy="676.0" r="3.3"/><circle cx="345.7" cy="713.1" r="3.3"/><circle cx="346.1" cy="728.5" r="3.3"/><circle cx="336.8" cy="716.7" r="3.3"/><circle cx="336.2" cy="722.7" r="3.3"/><circle cx="347.1" cy="721.3" r="3.3"/><circle cx="342.4" cy="710.5" r="3.3"/><circle cx="323.6" cy="714.1" r="3.3"/><circle cx="346.2" cy="715.1" r="3.3"/><circle cx="339.6" cy="709.2" r="3.3"/><circle cx="343.5" cy="722.8" r="3.3"/><circle cx="343.7" cy="714.8" r="3.3"/><circle cx="337.6" cy="718.3" r="3.3"/><circle cx="335.7" cy="711.4" r="3.3"/><circle cx="352.0" cy="713.0" r="3.3"/><circle cx="355.2" cy="727.7" r="3.3"/><circle cx="349.2" cy="728.4" r="3.3"/><circle cx="335.1" cy="714.4" r="3.3"/><circle cx="326.0" cy="727.9" r="3.3"/><circle cx="326.0" cy="720.6" r="3.3"/><circle cx="323.4" cy="719.5" r="3.3"/><circle cx="349.2" cy="719.2" r="3.3"/><circle cx="351.7" cy="723.1" r="3.3"/><circle cx="326.8" cy="727.0" r="3.3"/><circle cx="336.5" cy="709.5" r="3.3"/><circle cx="335.1" cy="715.0" r="3.3"/><circle cx="323.3" cy="715.9" r="3.3"/><circle cx="330.0" cy="725.8" r="3.3"/><circle cx="349.9" cy="711.4" r="3.3"/><circle cx="353.2" cy="723.3" r="3.3"/><circle cx="352.3" cy="714.8" r="3.3"/><circle cx="332.1" cy="716.9" r="3.3"/><circle cx="356.0" cy="720.8" r="3.3"/><circle cx="331.7" cy="717.6" r="3.3"/><circle cx="321.9" cy="725.7" r="3.3"/><circle cx="328.9" cy="727.7" r="3.3"/><circle cx="327.5" cy="714.3" r="3.3"/><circle cx="337.4" cy="712.8" r="3.3"/><circle cx="332.2" cy="728.1" r="3.3"/><circle cx="421.4" cy="726.6" r="3.3"/><circle cx="402.7" cy="727.9" r="3.3"/><circle cx="425.6" cy="723.1" r="3.3"/><circle cx="410.2" cy="721.9" r="3.3"/><circle cx="411.7" cy="724.4" r="3.3"/><circle cx="377.2" cy="716.6" r="3.3"/><circle cx="390.9" cy="720.5" r="3.3"/><circle cx="378.0" cy="725.6" r="3.3"/><circle cx="428.2" cy="719.4" r="3.3"/><circle cx="404.5" cy="719.9" r="3.3"/><circle cx="397.2" cy="721.1" r="3.3"/><circle cx="368.4" cy="718.1" r="3.3"/><circle cx="371.4" cy="727.8" r="3.3"/><circle cx="392.8" cy="718.9" r="3.3"/><circle cx="423.1" cy="729.0" r="3.3"/><circle cx="389.3" cy="717.8" r="3.3"/><circle cx="370.2" cy="717.2" r="3.3"/><circle cx="381.3" cy="717.2" r="3.3"/><circle cx="373.7" cy="719.4" r="3.3"/><circle cx="398.2" cy="727.5" r="3.3"/><circle cx="411.5" cy="721.4" r="3.3"/><circle cx="386.6" cy="722.8" r="3.3"/><circle cx="383.9" cy="720.4" r="3.3"/><circle cx="360.6" cy="719.6" r="3.3"/><circle cx="393.3" cy="724.2" r="3.3"/><circle cx="419.9" cy="718.8" r="3.3"/><circle cx="376.1" cy="719.2" r="3.3"/><circle cx="385.6" cy="721.8" r="3.3"/><circle cx="468.2" cy="727.6" r="3.3"/><circle cx="431.3" cy="726.4" r="3.3"/><circle cx="465.8" cy="724.3" r="3.3"/><circle cx="445.7" cy="728.3" r="3.3"/></g>
<line x1="355.5" y1="562.5" x2="355.5" y2="734.3" stroke="#000" stroke-width="2.8" stroke-dasharray="3 5.4"/>
<line x1="355.5" y1="715.3" x2="474.8" y2="724.5" stroke="#808080" stroke-width="5"/>
<line x1="313.9" y1="680.7" x2="354.1" y2="723.7" stroke="#ff0000" stroke-width="5"/>
<rect x="302" y="561.3" width="182" height="172.0" fill="none" stroke="#333" stroke-width="1.8"/>
<line x1="301.1" y1="561.4" x2="484.9" y2="561.4" stroke="#222" stroke-width="2.6"/>
<line x1="302" y1="734.2" x2="302" y2="783.1" stroke="#bbb" stroke-width="0.8"/>
<line x1="302" y1="734.2" x2="302" y2="783.1" stroke="#000" stroke-width="2.4" stroke-dasharray="2.4 5.6"/>
<line x1="355.5" y1="734.2" x2="484" y2="783.1" stroke="#bbb" stroke-width="0.8"/>
<line x1="355.5" y1="734.2" x2="484" y2="783.1" stroke="#000" stroke-width="2.4" stroke-dasharray="2.4 5.6"/>
<text x="313.3" y="592.9" font-size="25.5" font-weight="bold" fill="#1a1a1a">h</text>
<g font-size="15.8" font-weight="bold" fill="#ff0000" text-anchor="end">
<text x="478.4" y="588">y = -3.6x+363</text>
<text x="478.4" y="608.2">R<tspan font-size="10" dy="-5">2</tspan><tspan dy="5"> = 0.14</tspan></text>
<text x="478.4" y="627.4"><tspan font-style="italic">p</tspan> = 0.001</text>
</g>
<text transform="translate(303.7 761.8) scale(1 1.0)" font-size="21" text-anchor="middle" fill="#111" stroke="#111" stroke-width="0">0</text>
<text transform="translate(374.8 761.8) scale(1 1.0)" font-size="21" text-anchor="middle" fill="#111" stroke="#111" stroke-width="0">200</text>
<text transform="translate(458 761.8) scale(1 1.0)" font-size="21" text-anchor="middle" fill="#111" stroke="#111" stroke-width="0">400</text>
<rect x="502" y="561.3" width="37.200000000000045" height="172.0" fill="#e9fdf8"/>
<polygon points="514.0,641.0 519.0,660.0 528.0,690.0 536.0,722.0 533.0,722.0 512.0,690.0 511.0,660.0" fill="#ffb6c1" fill-opacity="0.35"/>
<g fill="#c2c2c2" fill-opacity="0.55" stroke="#b0b0b0" stroke-opacity="0.55" stroke-width="1.1"><circle cx="519.4" cy="603.7" r="3.3"/><circle cx="513.5" cy="655.9" r="3.3"/><circle cx="514.9" cy="662.6" r="3.3"/><circle cx="523.0" cy="681.5" r="3.3"/><circle cx="521.6" cy="708.0" r="3.3"/><circle cx="529.2" cy="703.1" r="3.3"/><circle cx="524.3" cy="716.6" r="3.3"/><circle cx="516.2" cy="725.3" r="3.3"/><circle cx="530.2" cy="723.4" r="3.3"/><circle cx="543.2" cy="709.0" r="3.3"/><circle cx="558.0" cy="717.2" r="3.3"/><circle cx="548.6" cy="724.7" r="3.3"/><circle cx="554.0" cy="726.0" r="3.3"/><circle cx="574.3" cy="725.3" r="3.3"/><circle cx="581.0" cy="725.3" r="3.3"/><circle cx="593.2" cy="720.7" r="3.3"/><circle cx="593.2" cy="724.0" r="3.3"/><circle cx="532.0" cy="726.0" r="3.3"/><circle cx="545.0" cy="722.0" r="3.3"/></g>
<line x1="539.2" y1="562.5" x2="539.2" y2="734.3" stroke="#000" stroke-width="2.8" stroke-dasharray="3 5.4"/>
<line x1="543.2" y1="721.2" x2="594" y2="723.9" stroke="#808080" stroke-width="5"/>
<line x1="514" y1="669.4" x2="535.1" y2="725.3" stroke="#ff0000" stroke-width="5"/>
<rect x="502" y="561.3" width="182" height="172.0" fill="none" stroke="#333" stroke-width="1.8"/>
<line x1="501.1" y1="561.4" x2="684.9" y2="561.4" stroke="#222" stroke-width="2.6"/>
<line x1="502" y1="734.2" x2="502" y2="783.1" stroke="#bbb" stroke-width="0.8"/>
<line x1="502" y1="734.2" x2="502" y2="783.1" stroke="#000" stroke-width="2.4" stroke-dasharray="2.4 5.6"/>
<line x1="539.2" y1="734.2" x2="684" y2="783.1" stroke="#bbb" stroke-width="0.8"/>
<line x1="539.2" y1="734.2" x2="684" y2="783.1" stroke="#000" stroke-width="2.4" stroke-dasharray="2.4 5.6"/>
<text x="517.6" y="592.9" font-size="25.5" font-weight="bold" fill="#1a1a1a">i</text>
<g font-size="15.8" font-weight="bold" fill="#ff0000" text-anchor="end">
<text x="678.6" y="588">y = -10.9x+616</text>
<text x="678.6" y="608.2">R<tspan font-size="10" dy="-5">2</tspan><tspan dy="5"> = 0.43</tspan></text>
<text x="678.6" y="627.4"><tspan font-style="italic">p</tspan> = 0.004</text>
</g>
<text transform="translate(503.7 761.8) scale(1 1.0)" font-size="21" text-anchor="middle" fill="#111" stroke="#111" stroke-width="0">0</text>
<text transform="translate(574.8 761.8) scale(1 1.0)" font-size="21" text-anchor="middle" fill="#111" stroke="#111" stroke-width="0">200</text>
<text transform="translate(658 761.8) scale(1 1.0)" font-size="21" text-anchor="middle" fill="#111" stroke="#111" stroke-width="0">400</text>
<rect x="102" y="783.1" width="182" height="170.5" fill="#e9fdf8"/>
<g fill="#c2c2c2" fill-opacity="0.55" stroke="#b0b0b0" stroke-opacity="0.55" stroke-width="1.1"><circle cx="180.8" cy="871.8" r="3.3"/><circle cx="162.4" cy="879.9" r="3.3"/><circle cx="198.4" cy="888.8" r="3.3"/><circle cx="211.2" cy="893.2" r="3.3"/><circle cx="203.6" cy="901.4" r="3.3"/><circle cx="207.7" cy="906.5" r="3.3"/><circle cx="227.7" cy="916.5" r="3.3"/><circle cx="203.6" cy="916.9" r="3.3"/><circle cx="175.1" cy="931.2" r="3.3"/><circle cx="185.5" cy="932.7" r="3.3"/><circle cx="196.9" cy="932.1" r="3.3"/><circle cx="205.5" cy="937.8" r="3.3"/><circle cx="212.1" cy="939.7" r="3.3"/><circle cx="185.5" cy="939.7" r="3.3"/><circle cx="188.4" cy="945.4" r="3.3"/><circle cx="204.5" cy="944.4" r="3.3"/><circle cx="204.5" cy="947.3" r="3.3"/><circle cx="218.7" cy="947.3" r="3.3"/><circle cx="234.9" cy="943.5" r="3.3"/><circle cx="252.9" cy="931.2" r="3.3"/><circle cx="262.4" cy="938.2" r="3.3"/><circle cx="246.3" cy="947.3" r="3.3"/><circle cx="253.9" cy="946.3" r="3.3"/><circle cx="155.2" cy="947.3" r="3.3"/><circle cx="159.0" cy="927.4" r="3.3"/><circle cx="214.0" cy="935.9" r="3.3"/></g>
<line x1="178.8" y1="783.1" x2="178.8" y2="953.6" stroke="#0000ff" stroke-width="1.8"/>
<path d="M149.5,925.5 C151.1,925.2 155.8,924.2 159.0,923.6 C162.2,923.0 165.3,922.2 168.5,921.7 C171.7,921.2 174.5,920.5 178.0,920.3 C181.5,920.1 185.8,920.3 189.3,920.7 C192.8,921.1 195.6,921.7 198.8,922.6 C202.0,923.5 204.8,924.6 208.3,926.0 C211.8,927.4 215.9,929.2 219.7,931.2 C223.5,933.2 227.6,935.8 231.1,937.8 C234.6,939.8 239.0,942.5 240.6,943.5" fill="none" stroke="#ff0000" stroke-width="5.5"/>
<path d="M149.5,925.5 C151.1,925.2 155.8,924.2 159.0,923.6 C162.2,923.0 165.3,922.2 168.5,921.7 C171.7,921.2 174.5,920.5 178.0,920.3 C181.5,920.1 185.8,920.3 189.3,920.7 C192.8,921.1 195.6,921.7 198.8,922.6 C202.0,923.5 204.8,924.6 208.3,926.0 C211.8,927.4 215.9,929.2 219.7,931.2 C223.5,933.2 227.6,935.8 231.1,937.8 C234.6,939.8 239.0,942.5 240.6,943.5" fill="none" stroke="#ffb6c1" stroke-width="8" stroke-dasharray="5.6 5.4" stroke-dashoffset="0"/>
<g fill="#000"><circle cx="149.5" cy="947.3" r="4.3"/><circle cx="162.8" cy="910.9" r="4.3"/><circle cx="176.1" cy="908.4" r="4.3"/><circle cx="189.3" cy="940.3" r="4.3"/><circle cx="202.6" cy="926.0" r="4.3"/><circle cx="215.9" cy="928.9" r="4.3"/><circle cx="229.2" cy="935.3" r="4.3"/><circle cx="242.5" cy="942.0" r="4.3"/><circle cx="256.1" cy="939.7" r="4.3"/></g>
<rect x="102" y="783.1" width="182" height="170.5" fill="none" stroke="#333" stroke-width="1.8"/>
<text x="115.9" y="814.3" font-size="25.5" font-weight="bold" fill="#1a1a1a">j</text>
<g font-size="15.5" font-weight="normal" fill="#f85a5a" text-anchor="end">
<text x="278.2" y="816.5"><tspan font-style="italic">R</tspan> = 0.43</text>
<text x="278.2" y="835.2"><tspan font-style="italic">p</tspan> = 0.25</text>
</g>
<text transform="translate(111.7 982.5) scale(1 1.0)" font-size="21" text-anchor="middle" fill="#111" stroke="#111" stroke-width="0">0</text>
<text transform="translate(260.5 982.5) scale(1 1.0)" font-size="21" text-anchor="middle" fill="#111" stroke="#111" stroke-width="0">120</text>
<text transform="translate(182.8 975.5) scale(1 1.0)" font-size="21" text-anchor="middle" fill="#0000ff">51.9</text>
<rect x="302" y="783.1" width="182" height="170.5" fill="#e9fdf8"/>
<g fill="#c2c2c2" fill-opacity="0.55" stroke="#b0b0b0" stroke-opacity="0.55" stroke-width="1.1"><circle cx="381.9" cy="875.8" r="3.3"/><circle cx="390.1" cy="882.9" r="3.3"/><circle cx="402.9" cy="872.3" r="3.3"/><circle cx="404.1" cy="874.7" r="3.3"/><circle cx="427.9" cy="884.5" r="3.3"/><circle cx="427.9" cy="891.5" r="3.3"/><circle cx="441.5" cy="891.0" r="3.3"/><circle cx="417.0" cy="894.5" r="3.3"/><circle cx="364.4" cy="895.2" r="3.3"/><circle cx="435.7" cy="903.4" r="3.3"/><circle cx="370.2" cy="908.6" r="3.3"/><circle cx="340.6" cy="917.9" r="3.3"/><circle cx="346.9" cy="917.9" r="3.3"/><circle cx="413.5" cy="912.1" r="3.3"/><circle cx="427.5" cy="915.6" r="3.3"/><circle cx="441.5" cy="921.4" r="3.3"/><circle cx="335.2" cy="929.6" r="3.3"/><circle cx="355.0" cy="935.4" r="3.3"/><circle cx="359.7" cy="936.6" r="3.3"/><circle cx="369.1" cy="930.7" r="3.3"/><circle cx="383.1" cy="938.9" r="3.3"/><circle cx="370.2" cy="941.3" r="3.3"/><circle cx="374.9" cy="940.1" r="3.3"/><circle cx="364.4" cy="947.1" r="3.3"/><circle cx="337.5" cy="945.9" r="3.3"/><circle cx="397.1" cy="937.8" r="3.3"/><circle cx="401.8" cy="928.4" r="3.3"/><circle cx="407.6" cy="931.9" r="3.3"/><circle cx="413.0" cy="816.7" r="3.3"/><circle cx="428.5" cy="806.7" r="3.3"/><circle cx="429.8" cy="835.3" r="3.3"/><circle cx="441.7" cy="947.4" r="3.3"/><circle cx="399.4" cy="929.9" r="3.3"/><circle cx="423.8" cy="943.1" r="3.3"/><circle cx="448.5" cy="944.0" r="3.3"/><circle cx="431.2" cy="945.1" r="3.3"/><circle cx="420.0" cy="939.8" r="3.3"/><circle cx="395.3" cy="945.6" r="3.3"/><circle cx="406.7" cy="949.0" r="3.3"/><circle cx="431.1" cy="933.6" r="3.3"/><circle cx="400.6" cy="932.3" r="3.3"/><circle cx="430.5" cy="943.5" r="3.3"/><circle cx="423.9" cy="940.6" r="3.3"/><circle cx="415.9" cy="931.6" r="3.3"/><circle cx="410.8" cy="937.5" r="3.3"/><circle cx="449.6" cy="942.1" r="3.3"/><circle cx="445.1" cy="937.9" r="3.3"/><circle cx="406.9" cy="932.2" r="3.3"/><circle cx="449.7" cy="943.6" r="3.3"/><circle cx="422.4" cy="942.9" r="3.3"/><circle cx="417.8" cy="932.4" r="3.3"/><circle cx="432.4" cy="949.1" r="3.3"/><circle cx="412.9" cy="936.5" r="3.3"/><circle cx="433.3" cy="931.0" r="3.3"/><circle cx="440.0" cy="944.5" r="3.3"/><circle cx="422.8" cy="931.1" r="3.3"/><circle cx="441.4" cy="931.8" r="3.3"/><circle cx="406.1" cy="945.0" r="3.3"/><circle cx="410.4" cy="949.8" r="3.3"/><circle cx="422.3" cy="930.7" r="3.3"/><circle cx="406.2" cy="936.4" r="3.3"/><circle cx="432.3" cy="949.7" r="3.3"/><circle cx="401.6" cy="935.8" r="3.3"/><circle cx="405.6" cy="950.4" r="3.3"/><circle cx="396.5" cy="935.8" r="3.3"/><circle cx="446.0" cy="948.1" r="3.3"/><circle cx="436.2" cy="950.9" r="3.3"/></g>
<line x1="392.4" y1="783.1" x2="392.4" y2="953.6" stroke="#0000ff" stroke-width="1.8"/>
<path d="M327.7,940.0 C329.8,938.8 335.6,934.8 340.0,932.5 C344.4,930.2 349.4,928.0 353.9,926.1 C358.3,924.2 362.2,922.3 366.7,920.9 C371.2,919.5 376.4,918.6 380.7,917.9 C385.0,917.2 388.1,916.7 392.4,916.7 C396.7,916.7 401.7,917.3 406.4,917.9 C411.1,918.5 415.8,919.0 420.5,920.2 C425.2,921.4 429.8,923.0 434.5,924.9 C439.2,926.8 444.2,929.6 448.5,931.9 C452.8,934.2 456.5,936.6 460.2,938.9 C463.9,941.2 468.9,944.7 470.7,945.9" fill="none" stroke="#ff0000" stroke-width="5.5"/>
<path d="M327.7,940.0 C329.8,938.8 335.6,935.0 340.0,932.5 C344.4,930.0 349.4,927.4 353.9,925.0 C358.3,922.6 362.2,919.9 366.7,918.0 C371.2,916.1 376.4,914.4 380.7,913.5 C385.0,912.6 388.1,912.5 392.4,912.5 C396.7,912.5 401.7,913.0 406.4,913.5 C411.1,914.0 415.8,914.7 420.5,915.5 C425.2,916.3 429.8,917.2 434.5,918.5 C439.2,919.8 444.2,921.3 448.5,923.0 C452.8,924.7 456.9,926.8 460.2,928.5 C463.4,930.2 466.7,932.2 468.0,933.0" fill="none" stroke="#ffb6c1" stroke-width="6" stroke-dasharray="31 29"/>
<path d="M327.7,942.0 C329.8,940.8 335.6,937.3 340.0,935.0 C344.4,932.7 349.4,930.0 353.9,928.0 C358.3,926.0 362.2,924.2 366.7,923.0 C371.2,921.8 376.4,921.3 380.7,921.0 C385.0,920.7 388.1,920.8 392.4,921.0 C396.7,921.2 401.7,921.7 406.4,922.5 C411.1,923.3 415.8,924.6 420.5,926.0 C425.2,927.4 432.2,930.2 434.5,931.0" fill="none" stroke="#ffb6c1" stroke-width="6" stroke-dasharray="31 29"/>
<g fill="#000"><circle cx="327.7" cy="933.6" r="4.3"/><circle cx="343.8" cy="927.2" r="4.3"/><circle cx="359.7" cy="928.9" r="4.3"/><circle cx="375.4" cy="927.7" r="4.3"/><circle cx="391.3" cy="908.6" r="4.3"/><circle cx="407.1" cy="921.9" r="4.3"/><circle cx="423.3" cy="919.8" r="4.3"/><circle cx="439.2" cy="928.4" r="4.3"/><circle cx="470.7" cy="945.9" r="4.3"/></g>
<rect x="302" y="783.1" width="182" height="170.5" fill="none" stroke="#333" stroke-width="1.8"/>
<text x="313.3" y="814.3" font-size="25.5" font-weight="bold" fill="#1a1a1a">k</text>
<g font-size="15.5" font-weight="bold" fill="#ff0000" text-anchor="end">
<text x="477.7" y="816.5"><tspan font-style="italic">R</tspan> = 0.78</text>
<text x="477.7" y="835.2"><tspan font-style="italic">p</tspan> = 0.01</text>
</g>
<text transform="translate(313.9 982.5) scale(1 1.0)" font-size="21" text-anchor="middle" fill="#111" stroke="#111" stroke-width="0">0</text>
<text transform="translate(461.8 982.5) scale(1 1.0)" font-size="21" text-anchor="middle" fill="#111" stroke="#111" stroke-width="0">100</text>
<text transform="translate(392 975.5) scale(1 1.0)" font-size="21" text-anchor="middle" fill="#0000ff">50.6</text>
<rect x="502" y="783.1" width="182" height="170.5" fill="#e9fdf8"/>
<g fill="#c2c2c2" fill-opacity="0.55" stroke="#b0b0b0" stroke-opacity="0.55" stroke-width="1.1"><circle cx="562.7" cy="877.8" r="3.3"/><circle cx="524.3" cy="931.8" r="3.3"/><circle cx="536.5" cy="935.3" r="3.3"/><circle cx="550.5" cy="935.9" r="3.3"/><circle cx="544.6" cy="946.9" r="3.3"/><circle cx="572.9" cy="937.2" r="3.3"/><circle cx="577.8" cy="915.1" r="3.3"/><circle cx="588.6" cy="939.4" r="3.3"/><circle cx="617.5" cy="921.8" r="3.3"/><circle cx="621.5" cy="944.8" r="3.3"/><circle cx="626.9" cy="946.1" r="3.3"/><circle cx="637.2" cy="944.8" r="3.3"/><circle cx="644.5" cy="935.3" r="3.3"/><circle cx="659.9" cy="942.9" r="3.3"/></g>
<line x1="570.8" y1="783.1" x2="570.8" y2="953.6" stroke="#0000ff" stroke-width="1.8"/>
<path d="M531.9,934.0 C533.2,932.8 537.2,929.0 540.0,927.0 C542.8,925.0 545.4,923.3 548.6,921.8 C551.8,920.3 555.3,919.0 559.0,918.0 C562.7,917.0 567.3,916.1 570.8,915.9 C574.3,915.6 577.0,916.0 580.0,916.5 C583.0,917.0 585.8,917.9 589.1,919.1 C592.4,920.3 596.9,922.1 600.0,923.5 C603.1,924.9 605.5,925.8 608.0,927.2 C610.5,928.6 612.9,930.3 615.0,932.0 C617.1,933.7 619.8,936.6 620.7,937.5" fill="none" stroke="#ff0000" stroke-width="5.5"/>
<path d="M531.9,929.0 C533.2,927.8 537.2,924.0 540.0,922.0 C542.8,920.0 545.4,918.5 548.6,917.0 C551.8,915.5 555.3,914.0 559.0,913.0 C562.7,912.0 567.3,911.4 570.8,911.0 C574.3,910.6 577.0,910.4 580.0,910.5 C583.0,910.6 585.7,910.9 589.0,911.5 C592.3,912.1 596.5,913.0 600.0,914.0 C603.5,915.0 606.9,916.2 610.0,917.5 C613.1,918.8 615.8,920.4 618.8,921.8 C621.8,923.2 626.5,925.3 628.0,926.0" fill="none" stroke="#ffb6c1" stroke-width="6" stroke-dasharray="31 29"/>
<path d="M531.9,939.0 C533.2,938.0 537.2,934.8 540.0,933.0 C542.8,931.2 545.4,929.4 548.6,928.0 C551.8,926.6 555.3,925.2 559.0,924.5 C562.7,923.8 567.3,923.4 570.8,923.5 C574.3,923.6 577.0,924.1 580.0,925.0 C583.0,925.9 586.2,927.3 589.0,928.6 C591.8,929.9 594.3,931.2 597.0,932.6 C599.7,934.0 603.7,936.3 605.0,937.0" fill="none" stroke="#ffb6c1" stroke-width="6" stroke-dasharray="31 29"/>
<g fill="#000"><circle cx="531.9" cy="934.0" r="4.3"/><circle cx="554.0" cy="920.5" r="4.3"/><circle cx="576.4" cy="925.9" r="4.3"/><circle cx="598.6" cy="937.5" r="4.3"/><circle cx="620.7" cy="937.5" r="4.3"/><circle cx="643.1" cy="940.7" r="4.3"/><circle cx="665.3" cy="942.9" r="4.3"/></g>
<rect x="502" y="783.1" width="182" height="170.5" fill="none" stroke="#333" stroke-width="1.8"/>
<text x="517.6" y="814.3" font-size="25.5" font-weight="bold" fill="#1a1a1a">l</text>
<g font-size="15.5" font-weight="bold" fill="#ff0000" text-anchor="end">
<text x="678.8" y="816.5"><tspan font-style="italic">R</tspan> = 0.75</text>
<text x="678.8" y="835.2"><tspan font-style="italic">p</tspan> = 0.05</text>
</g>
<text transform="translate(514.2 982.5) scale(1 1.0)" font-size="21" text-anchor="middle" fill="#111" stroke="#111" stroke-width="0">0</text>
<text transform="translate(666 982.5) scale(1 1.0)" font-size="21" text-anchor="middle" fill="#111" stroke="#111" stroke-width="0">70</text>
<text transform="translate(571.6 975.5) scale(1 1.0)" font-size="21" text-anchor="middle" fill="#0000ff">28.3</text>
<text transform="translate(89 576.7) scale(1 1.0)" font-size="21" text-anchor="end" fill="#111" stroke="#111" stroke-width="0">1000</text>
<text transform="translate(89 615.9) scale(1 1.0)" font-size="21" text-anchor="end" fill="#111" stroke="#111" stroke-width="0">750</text>
<text transform="translate(89 655.1) scale(1 1.0)" font-size="21" text-anchor="end" fill="#111" stroke="#111" stroke-width="0">500</text>
<text transform="translate(89 694.3) scale(1 1.0)" font-size="21" text-anchor="end" fill="#111" stroke="#111" stroke-width="0">250</text>
<text transform="translate(89 733.5) scale(1 1.0)" font-size="21" text-anchor="end" fill="#111" stroke="#111" stroke-width="0">0</text>
<text transform="translate(89 820.6) scale(1 1.0)" font-size="21" text-anchor="end" fill="#111" stroke="#111" stroke-width="0">30000</text>
<text transform="translate(89 865.2) scale(1 1.0)" font-size="21" text-anchor="end" fill="#111" stroke="#111" stroke-width="0">20000</text>
<text transform="translate(89 909.8) scale(1 1.0)" font-size="21" text-anchor="end" fill="#111" stroke="#111" stroke-width="0">10000</text>
<text transform="translate(89 954.4) scale(1 1.0)" font-size="21" text-anchor="end" fill="#111" stroke="#111" stroke-width="0">0</text>
<text transform="translate(18.9 642.6) rotate(-90)" text-anchor="middle" font-size="21.5" fill="#111" stroke="#111" stroke-width="0">f<tspan font-size="13" dy="4">pos</tspan><tspan dy="-4"> (kgCO</tspan><tspan font-size="13" dy="4">2</tspan><tspan dy="-4"> kgN</tspan><tspan font-size="13" dy="-8">-1</tspan><tspan dy="8">)</tspan></text>
<text transform="translate(18.8 868.6) rotate(-90)" text-anchor="middle" font-size="21.5" fill="#111" stroke="#111" stroke-width="0">&#916;SR<tspan font-size="13" dy="4">N-inc</tspan><tspan dy="-4"> (kgCO</tspan><tspan font-size="13" dy="4">2</tspan><tspan dy="-4"> ha</tspan><tspan font-size="13" dy="-8">-1</tspan><tspan dy="8"> yr</tspan><tspan font-size="13" dy="-8">-1</tspan><tspan dy="8">)</tspan></text>
<text transform="translate(271.2 1009.2) scale(1 1.06)" font-size="21" fill="#111" stroke="#111" stroke-width="0">N input rate (kgN ha<tspan font-size="13.5" dy="-8">-1</tspan><tspan dy="8" dx="0.8"> yr</tspan><tspan font-size="13.5" dy="-8">-1</tspan><tspan dy="8" dx="1">)</tspan></text>
</svg>
</body></html>
